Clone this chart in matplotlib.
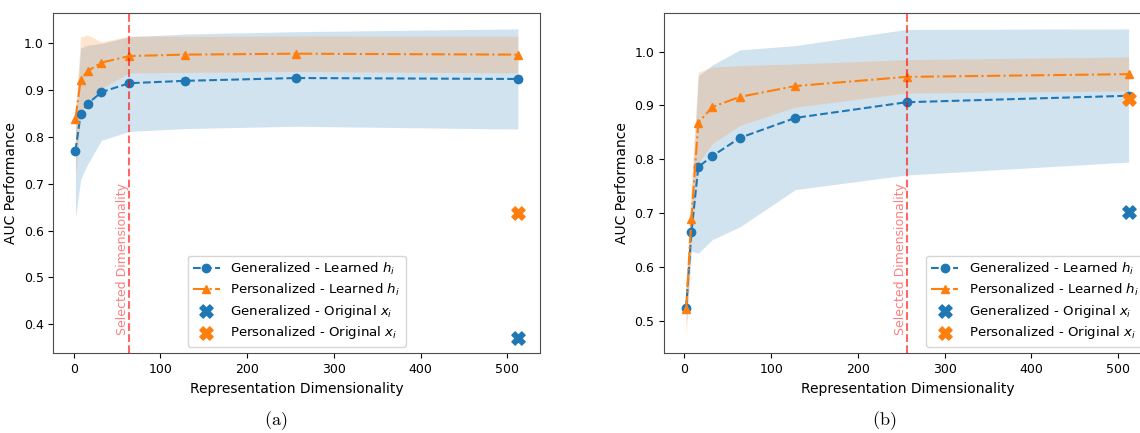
import numpy as np
import matplotlib
matplotlib.use("Agg")
import matplotlib.pyplot as plt
import matplotlib.transforms as mtransforms

# Representation sizes that were tried
dims = [2, 8, 16, 32, 64, 128, 256, 512]
orig_dim = 512

# (a) mean AUC and band edges
gen_a = [0.771, 0.850, 0.871, 0.896, 0.915, 0.920, 0.926, 0.924]
gen_a_lo = [0.628, 0.710, 0.742, 0.793, 0.812, 0.818, 0.823, 0.817]
gen_a_hi = [0.840, 0.990, 0.996, 1.000, 1.014, 1.020, 1.025, 1.031]
per_a = [0.839, 0.922, 0.941, 0.959, 0.973, 0.976, 0.978, 0.976]
per_a_lo = [0.712, 0.848, 0.876, 0.904, 0.937, 0.938, 0.940, 0.937]
per_a_hi = [0.860, 1.014, 1.018, 1.003, 1.016, 1.015, 1.016, 1.015]
orig_gen_a = 0.371
orig_per_a = 0.637
selected_a = 64

# (b)
gen_b = [0.525, 0.665, 0.786, 0.806, 0.840, 0.877, 0.906, 0.918]
gen_b_lo = [0.490, 0.630, 0.626, 0.651, 0.675, 0.744, 0.771, 0.795]
gen_b_hi = [0.560, 0.720, 0.955, 0.975, 1.003, 1.011, 1.041, 1.042]
per_b = [0.522, 0.690, 0.868, 0.897, 0.916, 0.936, 0.953, 0.958]
per_b_lo = [0.469, 0.640, 0.792, 0.829, 0.863, 0.897, 0.923, 0.927]
per_b_hi = [0.570, 0.760, 0.962, 0.971, 0.974, 0.977, 0.985, 0.990]
orig_gen_b = 0.702
orig_per_b = 0.912
selected_b = 256


def draw_panel(ax, gen, gen_lo, gen_hi, per, per_lo, per_hi, orig_gen, orig_per,
               selected, legend_loc):
    ax.fill_between(dims, gen_lo, gen_hi, color='C0', alpha=0.2, linewidth=0)
    ax.fill_between(dims, per_lo, per_hi, color='C1', alpha=0.2, linewidth=0)
    ax.plot(dims, gen, 'o--', color='C0', label=r'Generalized - Learned $h_i$')
    ax.plot(dims, per, '^-.', color='C1', label=r'Personalized - Learned $h_i$')
    ax.scatter([orig_dim], [orig_gen], marker='X', s=90, color='C0',
               label=r'Generalized - Original $x_i$', zorder=3)
    ax.scatter([orig_dim], [orig_per], marker='X', s=90, color='C1',
               label=r'Personalized - Original $x_i$', zorder=3)

    ax.axvline(selected, color='red', linestyle='--', alpha=0.6, linewidth=1.5)
    trans = mtransforms.blended_transform_factory(ax.transData, ax.transAxes)
    ax.text(selected, 0.055, 'Selected Dimensionality', rotation=90,
            color='red', alpha=0.5, fontsize=9, ha='right', va='bottom',
            transform=trans)

    ax.set_xlabel('Representation Dimensionality', fontsize=10)
    ax.set_ylabel('AUC Performance', fontsize=10)
    ax.tick_params(labelsize=9)
    for sp in ax.spines.values():
        sp.set_color('0.3')
    ax.legend(loc=legend_loc, fontsize=9.6, labelspacing=0.35)


fig = plt.figure(figsize=(11.4, 4.33), dpi=100)
ax_a = fig.add_axes([0.0468, 0.184, 0.4269, 0.785])
ax_b = fig.add_axes([0.5825, 0.184, 0.4269, 0.785])

draw_panel(ax_a, gen_a, gen_a_lo, gen_a_hi, per_a, per_a_lo, per_a_hi,
           orig_gen_a, orig_per_a, selected_a, 'lower center')
draw_panel(ax_b, gen_b, gen_b_lo, gen_b_hi, per_b, per_b_lo, per_b_hi,
           orig_gen_b, orig_per_b, selected_b, 'lower right')

# sub-captions as in the paper
fig.text(0.242, 0.028, r'$\mathrm{(a)}$', math_fontfamily='cm', fontsize=13,
         ha='center', va='center')
fig.text(0.776, 0.028, r'$\mathrm{(b)}$', math_fontfamily='cm', fontsize=13,
         ha='center', va='center')

fig.savefig('out.png', dpi=100)
